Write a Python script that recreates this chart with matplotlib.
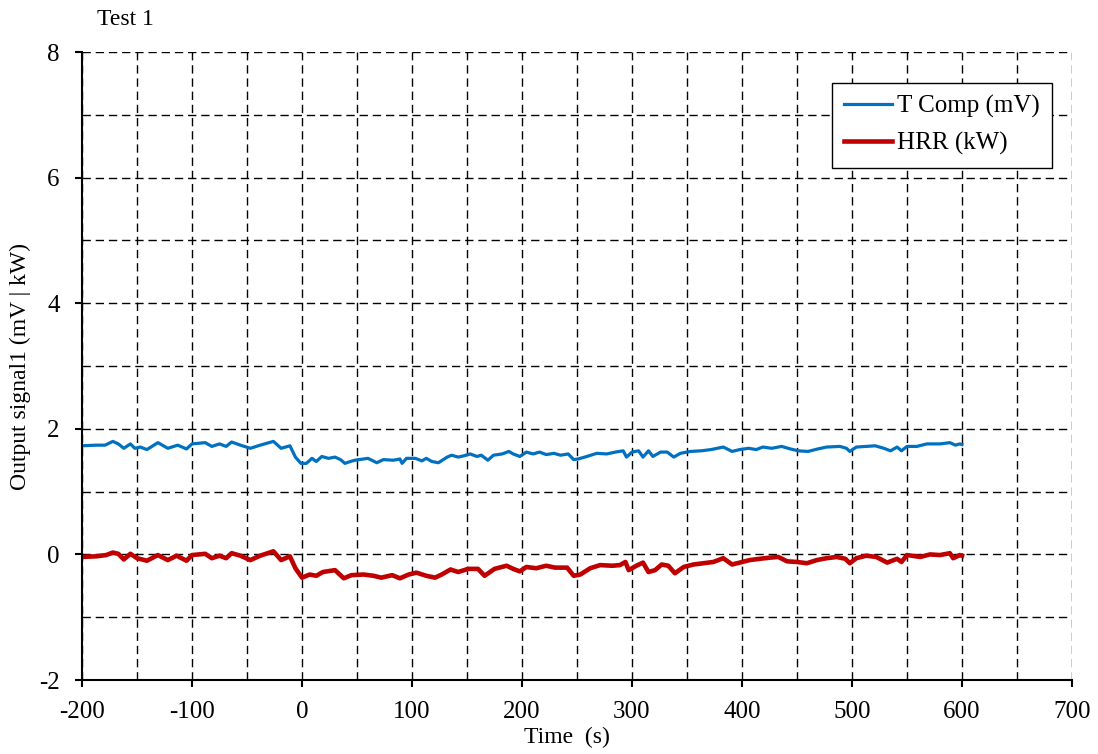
import numpy as np
import matplotlib
matplotlib.use("Agg")
from matplotlib import pyplot as plt
from matplotlib.ticker import MultipleLocator

plt.rcParams['font.family'] = ['Liberation Serif', 'DejaVu Serif']
plt.rcParams['font.size'] = 17
plt.rcParams['axes.unicode_minus'] = False

# T Comp (mV)
t_comp = np.array([-200, -187, -179, -172, -167, -162, -156, -152, -147, -141,
                   -131, -122, -113, -105, -100, -88, -82, -75, -69, -64,
                   -56, -47, -38, -26, -19, -11, -6, -1, 4, 9,
                   13, 18, 24, 30, 35, 39, 44, 48, 60, 68,
                   74, 83, 89, 91, 95, 103, 109, 113, 118, 124,
                   132, 136, 142, 147, 153, 159, 163, 169, 174, 182,
                   188, 192, 198, 204, 210, 216, 222, 229, 235, 242,
                   247, 251, 259, 268, 277, 285, 292, 295, 300, 306,
                   310, 315, 319, 326, 332, 338, 344, 353, 363, 372,
                   383, 391, 398, 406, 413, 419, 427, 436, 444, 451,
                   460, 469, 477, 489, 495, 498, 504, 513, 521, 529,
                   535, 541, 545, 550, 559, 568, 580, 589, 594, 598, 600])
v_comp = np.array([1.73, 1.74, 1.74, 1.80, 1.76, 1.69, 1.76, 1.69, 1.71, 1.67,
                   1.78, 1.69, 1.74, 1.68, 1.76, 1.78, 1.72, 1.76, 1.72, 1.79,
                   1.74, 1.69, 1.74, 1.80, 1.69, 1.73, 1.55, 1.45, 1.45, 1.53,
                   1.48, 1.56, 1.53, 1.55, 1.51, 1.45, 1.48, 1.50, 1.53, 1.46,
                   1.51, 1.50, 1.52, 1.45, 1.53, 1.53, 1.49, 1.53, 1.48, 1.46,
                   1.55, 1.58, 1.55, 1.57, 1.60, 1.56, 1.58, 1.50, 1.58, 1.60,
                   1.64, 1.60, 1.56, 1.63, 1.60, 1.63, 1.59, 1.61, 1.58, 1.60,
                   1.51, 1.52, 1.56, 1.61, 1.60, 1.63, 1.65, 1.55, 1.63, 1.65,
                   1.55, 1.65, 1.56, 1.63, 1.63, 1.55, 1.61, 1.64, 1.65, 1.67,
                   1.71, 1.64, 1.67, 1.69, 1.67, 1.71, 1.69, 1.72, 1.68, 1.65,
                   1.64, 1.68, 1.71, 1.72, 1.69, 1.64, 1.71, 1.72, 1.73, 1.69,
                   1.65, 1.71, 1.65, 1.72, 1.72, 1.76, 1.76, 1.78, 1.74, 1.76, 1.75])

# HRR (kW)
t_hrr = np.array([-200, -187, -178, -172, -167, -162, -156, -150, -141, -131,
                  -122, -114, -105, -100, -88, -82, -75, -69, -64, -56,
                  -47, -38, -26, -19, -11, -6, 0, 7, 13, 19,
                  30, 38, 45, 56, 65, 72, 82, 89, 97, 104,
                  113, 121, 127, 135, 142, 151, 160, 166, 175, 186,
                  192, 198, 204, 213, 222, 230, 241, 247, 253, 262,
                  271, 282, 289, 294, 297, 304, 310, 315, 321, 327,
                  333, 339, 347, 356, 365, 374, 383, 391, 398, 407,
                  416, 426, 433, 441, 450, 459, 468, 477, 486, 494,
                  498, 504, 513, 522, 532, 541, 545, 550, 562, 571,
                  580, 589, 592, 598, 600])
v_hrr = np.array([-0.04, -0.03, -0.01, 0.03, 0.01, -0.08, 0.01, -0.06, -0.10, -0.01,
                  -0.09, -0.02, -0.10, -0.01, 0.01, -0.06, -0.02, -0.06, 0.02, -0.02,
                  -0.09, -0.02, 0.05, -0.09, -0.03, -0.22, -0.37, -0.32, -0.34, -0.28,
                  -0.25, -0.38, -0.33, -0.32, -0.34, -0.37, -0.33, -0.38, -0.32, -0.29,
                  -0.34, -0.37, -0.32, -0.24, -0.28, -0.23, -0.23, -0.34, -0.23, -0.18,
                  -0.23, -0.27, -0.20, -0.22, -0.18, -0.21, -0.21, -0.34, -0.32, -0.22,
                  -0.17, -0.18, -0.17, -0.12, -0.25, -0.18, -0.13, -0.28, -0.25, -0.16,
                  -0.18, -0.30, -0.20, -0.16, -0.14, -0.12, -0.06, -0.16, -0.13, -0.09,
                  -0.07, -0.05, -0.04, -0.11, -0.12, -0.14, -0.09, -0.06, -0.04, -0.07,
                  -0.14, -0.06, -0.02, -0.04, -0.13, -0.07, -0.12, -0.01, -0.04, 0.00,
                  -0.01, 0.02, -0.06, -0.01, -0.02])

fig = plt.figure(figsize=(10.98, 7.54), dpi=100)
ax = fig.add_axes([0.0747, 0.0981, 0.9016, 0.8329])

ax.plot(t_comp, v_comp, color='#0070C0', lw=2.3, label='T Comp (mV)')
ax.plot(t_hrr, v_hrr, color='#C00000', lw=3.3, label='HRR (kW)')

ax.set_xlim(-200, 700)
ax.set_ylim(-2, 8)
ax.xaxis.set_major_locator(MultipleLocator(100))
ax.xaxis.set_minor_locator(MultipleLocator(50))
ax.yaxis.set_major_locator(MultipleLocator(2))
ax.yaxis.set_minor_locator(MultipleLocator(1))
ax.grid(which='both', color='black', lw=1.0, linestyle=(0, (6, 3.5)))
ax.set_axisbelow(True)

for s in ['top', 'right']:
    ax.spines[s].set_visible(False)
for s in ['left', 'bottom']:
    ax.spines[s].set_linewidth(1.5)
ax.tick_params(which='major', direction='out', length=5, width=1.5, labelsize=18)
ax.tick_params(which='minor', length=0)
ax.tick_params(axis='x', pad=10)
ax.tick_params(axis='y', pad=11)

ax.set_xlabel('Time  (s)')
ax.xaxis.set_label_coords(0.49, -0.075)
ax.set_ylabel('Output signal1 (mV | kW)')
ax.yaxis.set_label_coords(-0.052, 0.5)

fig.text(0.0883, 0.9735, 'Test 1', ha='left', va='center')

leg = ax.legend(loc='upper right', bbox_to_anchor=(0.98, 0.951), borderaxespad=0,
                fancybox=False, framealpha=1, edgecolor='black', fontsize=18,
                handlelength=1.9, handletextpad=0.2, borderpad=0.5, labelspacing=0.55)
leg.get_frame().set_linewidth(1.0)

fig.savefig('out.png', dpi=100)
